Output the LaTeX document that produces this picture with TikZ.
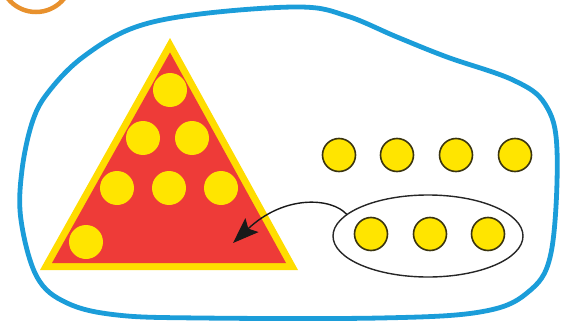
\documentclass[tikz,border=0pt]{standalone}
\usetikzlibrary{arrows.meta,shapes.geometric}
\definecolor{blobblue}{HTML}{1B9DD9}
\definecolor{ringorange}{HTML}{E8912D}
\definecolor{trired}{HTML}{EE3B38}
\definecolor{triyellow}{HTML}{FFDD00}
\definecolor{dotyellow}{HTML}{FFE500}
\definecolor{dotline}{HTML}{3A3410}
\tikzset{
  innerdot/.style={circle,fill=dotyellow,minimum size=34pt,inner sep=0pt,outer sep=0pt},
  outerdot/.style={circle,fill=dotyellow,draw=dotline,line width=1.6pt,minimum size=33pt,inner sep=0pt},
  groupring/.style={ellipse,draw=black!85,line width=1.4pt,minimum width=190pt,minimum height=82pt,inner sep=0pt},
  blobline/.style={draw=blobblue,line width=4.8pt},
  pointer/.style={draw=black!90,line width=1.4pt,-{Stealth[length=26pt,width=19pt,inset=5pt]}}
}
\begin{document}
\begin{tikzpicture}[x=1pt,y=-1pt]
\useasboundingbox (0,0) rectangle (568,324);
% orange ring (partly outside)
\draw[ringorange,line width=4.5pt] (36,-24) circle (36);
% blue blob
\draw[blobline] plot[smooth cycle,tension=0.6] coordinates {
 (300,7) (347,16) (397,37) (447,57) (513,80) (545,104) (557,150) (551,253)
 (527,293) (480,312) (380,318) (200,318) (117,315) (67,303) (37,277) (21,220)
 (22,170) (33,120) (50,90) (83,57) (133,28) (200,14)};
% triangle
\fill[triyellow] (170,38) -- (40,270) -- (298,270) -- cycle;
\fill[trired] (170,52.5) -- (52,263) -- (286,263) -- cycle;
% dots in triangle
\node[innerdot] (t1) at (170,90) {};
\node[innerdot] (t2) at (143,138) {};
\node[innerdot] (t3) at (192,138) {};
\node[innerdot] (t4) at (117,188) {};
\node[innerdot] (t5) at (169,188) {};
\node[innerdot] (t6) at (221,188) {};
\node[innerdot] (t7) at (86,242) {};
\coordinate (tip) at (233,243);
% dots outside
\node[outerdot] (a1) at (339,155) {};
\node[outerdot] (a2) at (397,155) {};
\node[outerdot] (a3) at (456,155) {};
\node[outerdot] (a4) at (515,155) {};
\node[groupring] (ring) at (428,236) {};
\node[outerdot] (b1) at (371,234) {};
\node[outerdot] (b2) at (430,234) {};
\node[outerdot] (b3) at (488,234) {};
% arrow
\draw[pointer] (ring.165) .. controls (332,198) and (285,194) .. (tip);
\end{tikzpicture}
\end{document}
